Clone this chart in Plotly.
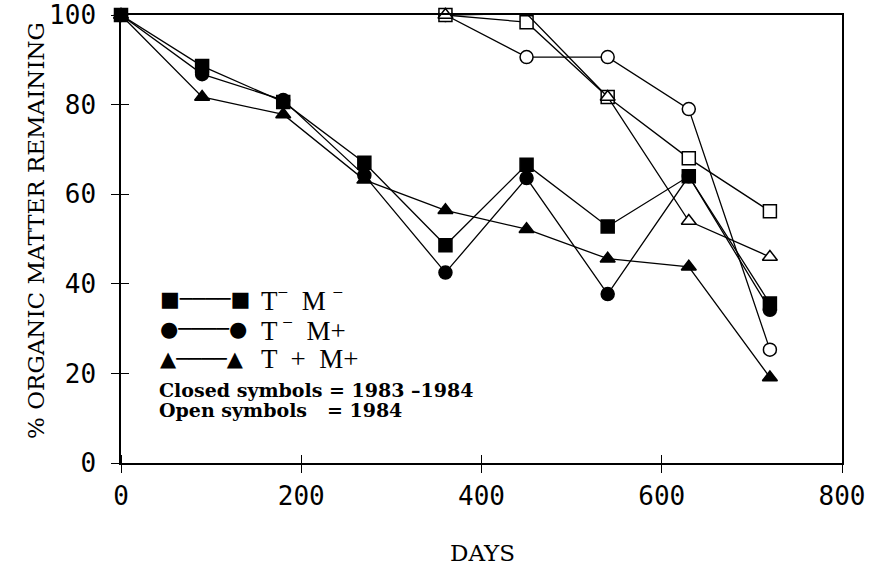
import plotly.graph_objects as go

# ---- data ----
days = [0, 90, 180, 270, 360, 450, 540, 630, 720]
closed_tm_minus = [100, 88.6, 80.6, 67.0, 48.6, 66.6, 52.8, 64.0, 35.6]
closed_tm_plus = [100, 86.8, 81.0, 64.2, 42.5, 63.6, 37.7, 64.0, 34.2]
closed_tp_mp = [100, 81.7, 77.8, 63.2, 56.4, 52.2, 45.6, 43.8, 19.1]

open_days = [360, 450, 540, 630, 720]
open_tm_minus = [100, 98.4, 81.7, 68.0, 56.2]
open_tm_plus = [100, 90.6, 90.6, 79.0, 25.3]
open_tp_mp = [100, 100.3, 81.7, 54.0, 46.0]

x_ticks = [0, 200, 400, 600, 800]
y_ticks = [0, 20, 40, 60, 80, 100]

fig = go.Figure()


def add(x, y, symbol, fill):
    fig.add_trace(go.Scatter(
        x=x, y=y, mode="lines+markers",
        line=dict(color="black", width=1.3),
        marker=dict(symbol=symbol, size=13, color=fill,
                    line=dict(color="black", width=1.5)),
        cliponaxis=False, showlegend=False, hoverinfo="x+y"))


# closed symbols (1983-1984)
add(days, closed_tp_mp, "triangle-up", "black")
add(days, closed_tm_plus, "circle", "black")
add(days, closed_tm_minus, "square", "black")
# open symbols (1984)
add(open_days, open_tm_plus, "circle", "white")
add(open_days, open_tm_minus, "square", "white")
add(open_days, open_tp_mp, "triangle-up", "white")

tickfont = dict(family="DejaVu Sans Mono", size=26, color="black")

# inner halves of the crossing ticks, drawn as minor ticks (tiny offset so
# plotly does not merge them with the major ones)
x_inner = [t + 0.01 for t in x_ticks[:-1]]
y_inner = [t + 0.001 for t in y_ticks[:-1]]

fig.update_layout(
    width=878, height=573,
    margin=dict(l=121, r=36, t=15, b=110, autoexpand=False),
    paper_bgcolor="white", plot_bgcolor="white",
    xaxis=dict(range=[0, 800], tickvals=x_ticks, ticks="outside", ticklen=8,
               tickwidth=1.3, tickcolor="black", showline=True, linecolor="black",
               linewidth=1.5, mirror=True, showgrid=False, zeroline=False,
               tickfont=tickfont, automargin=False, ticklabelstandoff=1,
               minor=dict(tickmode="array", tickvals=x_inner, ticks="inside",
                          ticklen=8, tickwidth=1.3, tickcolor="black",
                          showgrid=False)),
    yaxis=dict(range=[0, 100], tickvals=y_ticks, ticks="outside", ticklen=8,
               tickwidth=1.3, tickcolor="black", showline=True, linecolor="black",
               linewidth=1.5, mirror=True, showgrid=False, zeroline=False,
               tickfont=tickfont, automargin=False, ticklabelstandoff=10,
               minor=dict(tickmode="array", tickvals=y_inner, ticks="inside",
                          ticklen=8, tickwidth=1.3, tickcolor="black",
                          showgrid=False)),
)

serif = "DejaVu Serif"
ann = []
ann.append(dict(text="% ORGANIC MATTER REMAINING", xref="paper", yref="paper",
                x=-0.118, y=0.52, xanchor="center", yanchor="middle",
                textangle=-90, showarrow=False,
                font=dict(family=serif, size=23, color="black")))
ann.append(dict(text="DAYS", xref="paper", yref="paper", x=0.502, y=-0.2,
                xanchor="center", yanchor="middle", showarrow=False,
                font=dict(family=serif, size=23, color="black")))

legend_rows = [("■────■", "T<sup>−</sup>  M <sup>−</sup>", 0.366),
               ("●────●", "T<sup> −</sup>  M+", 0.299),
               ("▲────▲", "T  +  M+", 0.232)]
for sym, lab, yy in legend_rows:
    ann.append(dict(text=sym, xref="paper", yref="paper", x=0.052, y=yy,
                    xanchor="left", yanchor="middle", showarrow=False,
                    font=dict(family="DejaVu Sans", size=21, color="black")))
    ann.append(dict(text=lab, xref="paper", yref="paper", x=0.192, y=yy,
                    xanchor="left", yanchor="middle", showarrow=False,
                    font=dict(family="Liberation Serif", size=27, color="black")))

ann.append(dict(text="<b>Closed symbols = 1983 –1984</b>", xref="paper", yref="paper",
                x=0.05, y=0.163, xanchor="left", yanchor="middle", showarrow=False,
                font=dict(family=serif, size=19, color="black")))
ann.append(dict(text="<b>Open symbols   = 1984</b>", xref="paper", yref="paper",
                x=0.05, y=0.118, xanchor="left", yanchor="middle", showarrow=False,
                font=dict(family=serif, size=19, color="black")))
fig.update_layout(annotations=ann)

fig.write_html("out.html", config={"displayModeBar": False},
               post_script="document.body.style.margin='0';"
                           "document.body.style.overflow='hidden';")
